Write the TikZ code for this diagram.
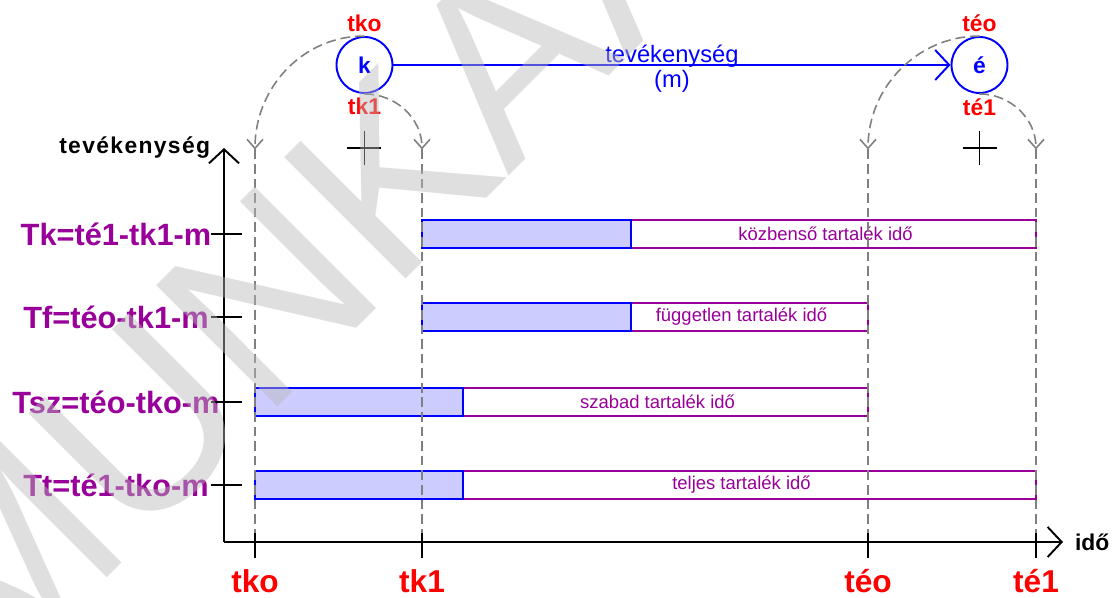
\documentclass[tikz,border=0pt]{standalone}
\usepackage{fontspec}
\setmainfont{Liberation Sans}
\usetikzlibrary{arrows.meta,positioning}

\definecolor{lila}{RGB}{153,0,153}

\begin{document}
\begin{tikzpicture}[
    barb/.style={-{Straight Barb[length=0.28cm,width=0.6cm]}},
    smallbarb/.style={-{Straight Barb[length=0.18cm,width=0.32cm]}},
    axis/.style={line width=1.1pt,barb},
    guide/.style={gray,line width=0.9pt,dash pattern=on 5.5pt off 2.8pt},
    event/.style={circle,draw=blue,line width=1.1pt,minimum size=1.12cm,inner sep=0pt,
      text=blue,font=\fontsize{13}{15}\selectfont\bfseries},
    evlbl/.style={text=red,font=\fontsize{13}{15}\selectfont\bfseries},
    timelbl/.style={text=red,font=\fontsize{18}{20}\selectfont\bfseries},
    rowlbl/.style={text=lila,font=\fontsize{17.5}{20}\selectfont\bfseries},
    reserve/.style={draw=lila,line width=1.1pt,fill=white},
    busy/.style={draw=blue,line width=1.1pt,fill=blue!20},
    restxt/.style={text=lila,font=\fontsize{10.5}{12}\selectfont},
  ]
  \useasboundingbox (-4.48,-1.12) rectangle (17.88,10.84);

  % Axes
  \coordinate (O) at (0,0);
  \coordinate (ytip) at (0,7.88);
  \coordinate (xtip) at (16.78,0);
  \draw[axis] (O) -- (ytip)
    node[left=4pt,font={\fontsize{13}{15}\selectfont\bfseries\addfontfeature{LetterSpace=6}}] (ylbl) {tevékenység};
  \draw[axis] (O) -- (xtip)
    node[right=3pt,font=\fontsize{13}{15}\selectfont\bfseries] (xlbl) {idő};

  % Reserve times, one row each
  \foreach \y/\s/\m/\f/\lbl/\txt [count=\i] in {
      6.16/3.96/8.14/16.24/{Tk=té1-tk1-m}/{közbenső tartalék idő},
      4.50/3.96/8.14/12.88/{Tf=téo-tk1-m}/{független tartalék idő},
      2.80/0.62/4.78/12.88/{Tsz=téo-tko-m}/{szabad tartalék idő},
      1.14/0.62/4.78/16.24/{Tt=té1-tko-m}/{teljes tartalék idő}} {
    \draw[reserve] (\m,\y-0.28) rectangle (\f,\y+0.28);
    \draw[busy] (\s,\y-0.28) rectangle (\m,\y+0.28);
    \node[restxt] (res\i) at ({(\m+\f)/2-0.16},\y) {\txt};
    \node[rowlbl] (row\i) at (-2.16,\y) {\lbl};
    \draw[line width=1.1pt] (-0.26,\y) -- (0.36,\y);
  }

  % Time points: guide lines, ticks and labels
  \coordinate (tko top) at (0.62,7.85);
  \coordinate (tk1 top) at (3.96,7.85);
  \coordinate (teo top) at (12.88,7.85);
  \coordinate (te1 top) at (16.24,7.85);
  \foreach \n/\x/\t in {tko/0.62/tko, tk1/3.96/tk1, teo/12.88/téo, te1/16.24/té1} {
    \draw[guide] (\x,7.85) -- (\x,0);
    \draw[line width=1.1pt] (\x,0.18) -- (\x,-0.32);
    \node[timelbl] (\n) at (\x,-0.79) {\t};
  }

  % Events and the activity between them
  \node[event] (k) at (2.81,9.54) {k};
  \node[event] (e) at (15.11,9.54) {é};
  \node[evlbl,above=-1pt of k] (k early) {tko};
  \node[evlbl,below=-1pt of k] (k late) {tk1};
  \node[evlbl,above=-1pt of e] (e early) {téo};
  \node[evlbl,below=-1pt of e] (e late) {té1};
  \draw[blue,line width=1.1pt,barb] (k) -- (e)
    node[midway,above=-5pt,font=\fontsize{13.5}{15}\selectfont] (act) {tevékenység}
    node[midway,below=-1pt,font=\fontsize{13.5}{15}\selectfont] (dur) {(m)};

  % Projecting the event times down
  \draw[guide,smallbarb] (k.north) to[out=180,in=90] (tko top);
  \draw[guide,smallbarb] (k.south) to[out=0,in=90] (tk1 top);
  \draw[guide,smallbarb] (e.north) to[out=180,in=90] (teo top);
  \draw[guide,smallbarb] (e.south) to[out=0,in=90] (te1 top);

  % Crosses under the events
  \draw[line width=0.9pt] (k |- ytip) ++(-0.34,0) -- ++(0.68,0) ++(-0.34,0.34) -- ++(0,-0.68);
  \draw[line width=0.9pt] (e |- ytip) ++(-0.34,0) -- ++(0.68,0) ++(-0.34,0.34) -- ++(0,-0.68);

  % Stamp
  \node[rotate=45,anchor=base west,inner sep=0pt,text=gray!55,opacity=0.45,
    font=\fontsize{142}{142}\selectfont] (stamp) at (-4.7,-3.08) {MUNKAANYAG};
\end{tikzpicture}
\end{document}
